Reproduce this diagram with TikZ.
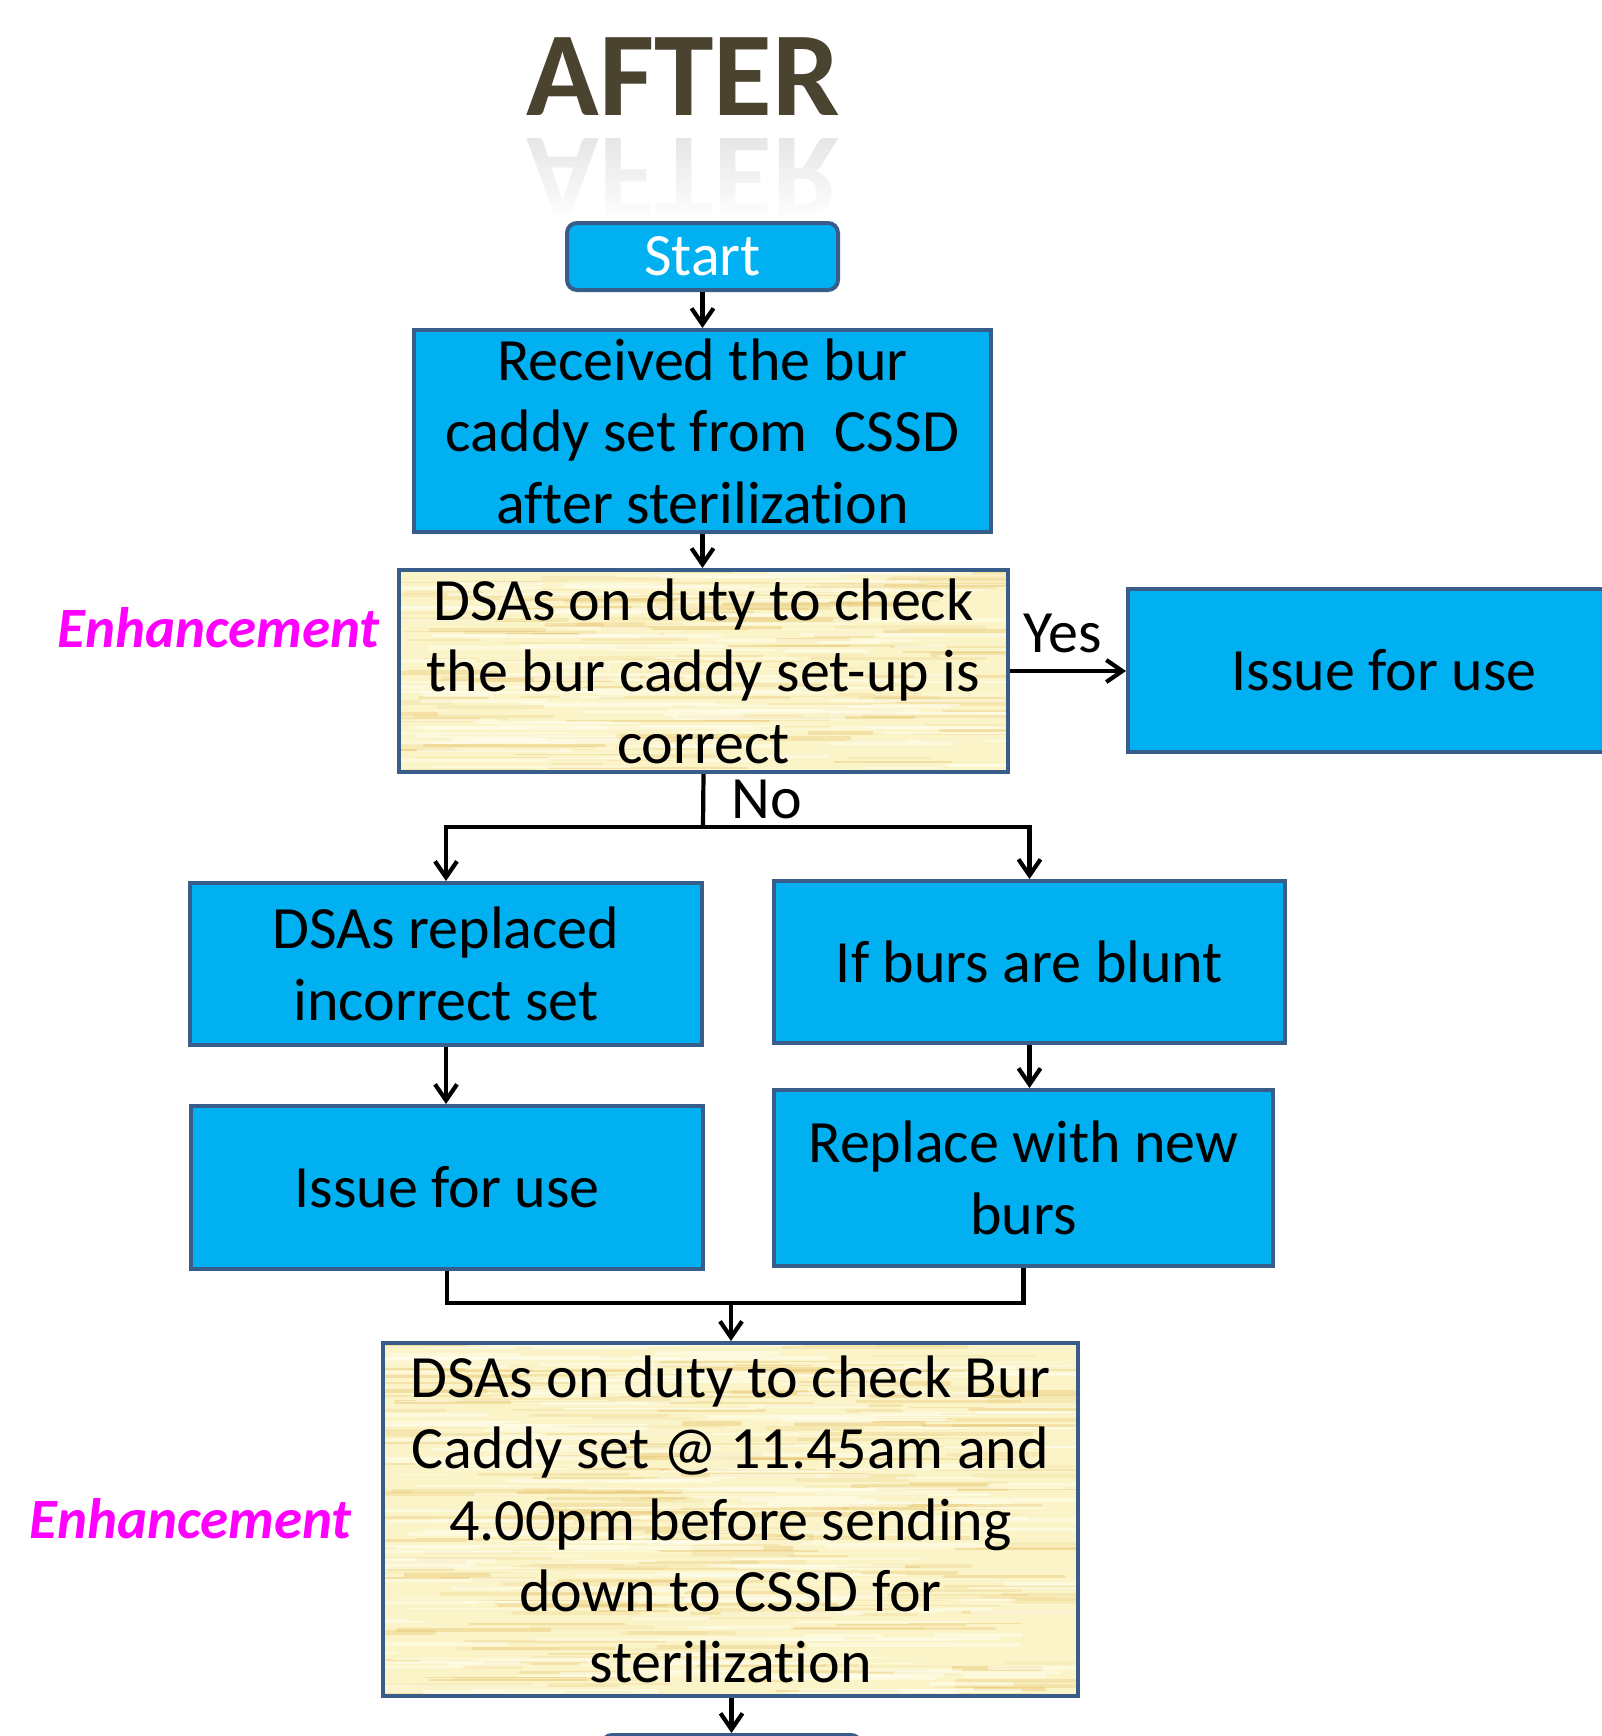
\documentclass[tikz,border=0pt]{standalone}
\usepackage{fontspec}
\setmainfont[Ligatures=NoCommon]{Carlito}
\usetikzlibrary{arrows.meta,backgrounds,fadings,calc}
\definecolor{cyanfill}{RGB}{0,176,240}
\definecolor{boxborder}{RGB}{56,93,138}
\definecolor{aftercol}{RGB}{74,67,48}
\definecolor{woodbase}{RGB}{251,244,200}
\definecolor{streakA}{RGB}{228,190,100}
\definecolor{streakB}{RGB}{255,253,236}
\definecolor{enhcol}{RGB}{255,0,255}
\tikzfading[name=reflfade, top color=transparent!60, bottom color=transparent!0]
\newcommand\boxfont{\fontsize{30}{35.7}\selectfont}
\newcommand\woodfill[4]{%
 \begin{scope}[on background layer]
  \begin{scope}
  \clip (#1.south west) rectangle (#1.north east);
  \fill[woodbase] (#1.south west) rectangle (#1.north east);
  \begin{scope}[shift={(#1.north west)}]
   \foreach \k in {1,...,#4}{%
     \pgfmathsetmacro\rx{rnd*(#2)-60}
     \pgfmathsetmacro\ry{rnd*(#3)}
     \pgfmathsetmacro\rl{50+160*rnd}
     \pgfmathsetmacro\rw{0.5+1.8*rnd}
     \pgfmathsetmacro\ro{0.1+0.3*rnd}
     \draw[streakA, line width=\rw pt, opacity=\ro, line cap=round] (\rx,\ry) -- ++(\rl,0);
   }
   \foreach \k in {1,...,#4}{%
     \pgfmathsetmacro\rx{rnd*(#2)-60}
     \pgfmathsetmacro\ry{rnd*(#3)}
     \pgfmathsetmacro\rl{50+160*rnd}
     \pgfmathsetmacro\rw{0.5+1.5*rnd}
     \draw[streakB, line width=\rw pt, opacity=0.6, line cap=round] (\rx,\ry) -- ++(\rl,0);
   }
  \end{scope}
  \end{scope}
 \end{scope}}
\tikzset{
 bbox/.style={draw=boxborder, line width=2pt, fill=cyanfill, align=center, inner sep=0pt, font=\boxfont},
 wbox/.style={draw=boxborder, line width=2pt, align=center, inner sep=0pt, font=\boxfont},
 arr/.style={line width=2.1pt, -{Straight Barb[length=8pt,width=11pt]}},
 conn/.style={line width=2.1pt},
 lbl/.style={font=\boxfont},
 enh/.style={font=\fontsize{28.5}{34}\selectfont\bfseries\itshape, text=enhcol, anchor=east, inner sep=0pt},
 titlefont/.style={font=\fontsize{60}{72}\selectfont\bfseries},
}
\begin{document}
\begin{tikzpicture}[x=0.5pt, y=-0.5pt]
\pgfmathsetseed{7}
\path[use as bounding box, clip] (0,0) rectangle (1602,1736);
\begin{scope}[on background layer]
\fill[white] (0,0) rectangle (1602,1736);
\end{scope}

% title with reflection
\node[titlefont, text=aftercol, anchor=base, inner sep=0pt] (title) at (683,115) {AFTER};
\begin{scope}[shift={(683,138)}, yscale=-1]
 \node[titlefont, text=black!20, anchor=base, inner sep=0pt, transform shape] (titlerefl) at (0,0) {AFTER};
\end{scope}
\fill[white, path fading=reflfade] (500,118) rectangle (870,222);

% nodes
\node[bbox, rounded corners=5pt, minimum width=135.5pt, minimum height=33.5pt, text=white] (start) at (702.5,256.5) {Start};
\node[bbox, minimum width=288.5pt, minimum height=101pt] (recv) at (702.5,431) {Received the bur\\caddy set from~ CSSD\\after sterilization};
\node[wbox, minimum width=304.5pt, minimum height=101pt] (chk) at (703.5,671) {DSAs on duty to check\\the bur caddy set-up is\\correct};
\woodfill{chk}{613}{206}{140}
\node[bbox, minimum width=256pt, minimum height=81.5pt] (iss1) at (1384,670.5) {Issue for use};
\node[bbox, minimum width=256pt, minimum height=81pt] (repl) at (446,964) {DSAs replaced\\incorrect set};
\node[bbox, minimum width=255.5pt, minimum height=81pt] (blunt) at (1029.5,962) {If burs are blunt};
\node[bbox, minimum width=256pt, minimum height=81.5pt] (iss2) at (447,1187.5) {Issue for use};
\node[bbox, minimum width=249.5pt, minimum height=88pt] (rnew) at (1023.5,1178) {Replace with new\\burs};
\node[wbox, minimum width=347.5pt, minimum height=176.5pt] (bot) at (730.5,1519.5) {DSAs on duty to check Bur\\Caddy set @ 11.45am and\\4.00pm before sending\\down to CSSD for\\sterilization};
\woodfill{bot}{699}{357}{260}
\node[bbox, rounded corners=5pt, minimum width=129.5pt, minimum height=35pt] (endb) at (731.5,1770) {};

% labels
\node[enh] (enh1) at (380,628) {Enhancement};
\node[enh] (enh2) at (352,1519) {Enhancement};
\node[lbl] (yes) at (1063,633) {Yes};
\node[lbl] (no) at (767,799) {No};

% connectors
\draw[arr] (start.south) -- (recv.north);
\draw[arr] (recv.south) -- (recv.south |- chk.north);
\draw[arr] (chk.east) -- (chk.east -| iss1.west);
\coordinate (nj) at (703,827);
\draw[conn] (chk.south) -- (nj);
\draw[arr] (nj) -| (repl.north);
\draw[arr] (nj) -| (blunt.north);
\draw[arr] (repl.south) -- (repl.south |- iss2.north);
\draw[arr] (blunt.south) -- (blunt.south |- rnew.north);
\coordinate (mj) at (731,1303);
\draw[conn] (iss2.south) |- (mj);
\draw[conn] (rnew.south) |- (mj);
\draw[arr] (mj) -- (mj |- bot.north);
\draw[arr] (bot.south -| endb.north) -- (endb.north);
\end{tikzpicture}
\end{document}
